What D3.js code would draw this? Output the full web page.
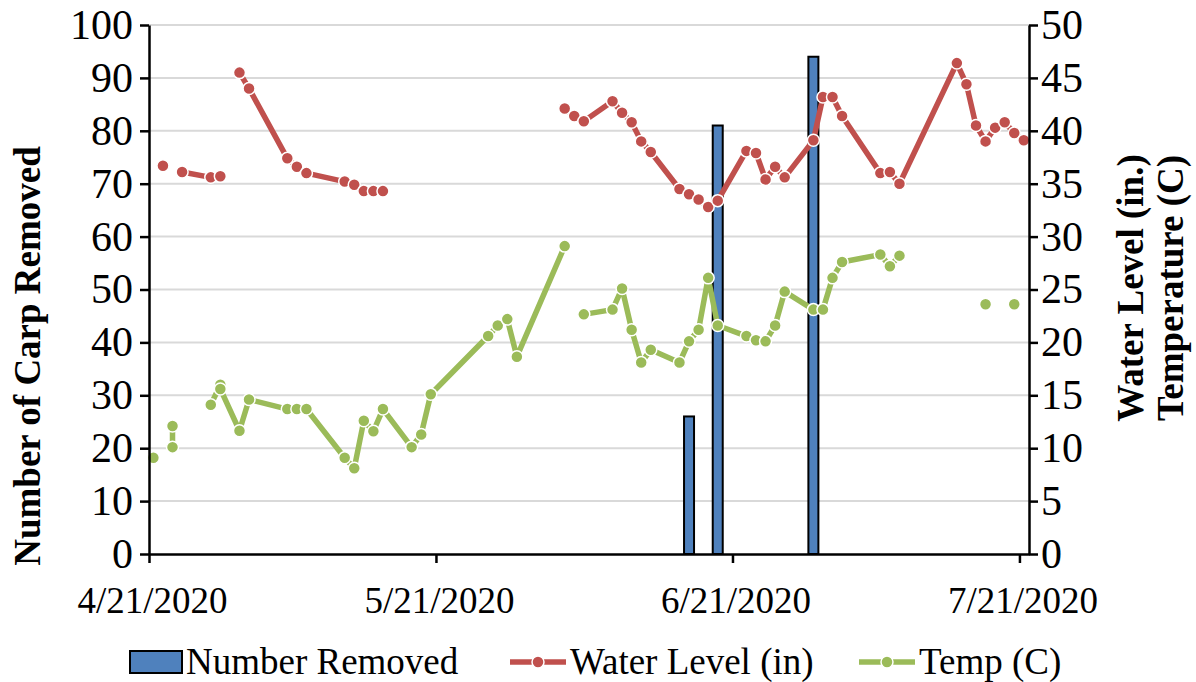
<!DOCTYPE html>
<html>
<head>
<meta charset="utf-8">
<script src="https://cdn.jsdelivr.net/npm/d3@7"></script>
<style>
	body { margin: 0; background: #fff; }
	text { font-family: "Liberation Serif", "Times New Roman", serif; fill: #000; }
</style>
</head>
<body>
<svg id="chart" width="1196" height="682"></svg>
<script>
	//carp removals (left axis)
var removedDates = ["6/16", "6/19", "6/29"];
var removedCounts = [26, 81, 94];

	//water level in inches (right axis), null = no reading, line breaks there
var waterLevel = [
	["4/22", 36.7], ["4/23", null], ["4/24", 36.1], ["4/27", 35.6], ["4/28", 35.7], ["4/29", null],
	["4/30", 45.5], ["5/1", 44.0], ["5/5", 37.4], ["5/6", 36.6], ["5/7", 36.0], ["5/11", 35.2],
	["5/12", 34.9], ["5/13", 34.3], ["5/14", 34.3], ["5/15", 34.3], ["5/20", null],
	["6/3", 42.1], ["6/4", 41.4], ["6/5", 40.9], ["6/8", 42.8], ["6/9", 41.7], ["6/10", 40.8],
	["6/11", 39.0], ["6/12", 38.0], ["6/15", 34.5], ["6/16", 34.0], ["6/17", 33.5], ["6/18", 32.8],
	["6/19", 33.4], ["6/22", 38.1], ["6/23", 37.9], ["6/24", 35.4], ["6/25", 36.6], ["6/26", 35.6],
	["6/29", 39.1], ["6/30", 43.2], ["7/1", 43.2], ["7/2", 41.4], ["7/6", 36.0], ["7/7", 36.1],
	["7/8", 35.0], ["7/14", 46.4], ["7/15", 44.4], ["7/16", 40.5], ["7/17", 39.0], ["7/18", 40.3],
	["7/19", 40.8], ["7/20", 39.8], ["7/21", 39.1]
];

	//water temperature in C (right axis)
var temperature = [
	["4/21", 9.1], ["4/22", null], ["4/23", 10.1], ["4/23", 12.1], ["4/24", null],
	["4/27", 14.1], ["4/28", 16.0], ["4/28", 15.6], ["4/30", 11.65], ["5/1", 14.6],
	["5/5", 13.7], ["5/6", 13.7], ["5/7", 13.7], ["5/11", 9.1], ["5/12", 8.1], ["5/13", 12.6],
	["5/14", 11.6], ["5/15", 13.7], ["5/18", 10.1], ["5/19", 11.3], ["5/20", 15.1],
	["5/26", 20.6], ["5/27", 21.6], ["5/28", 22.2], ["5/29", 18.65], ["6/3", 29.1], ["6/4", null],
	["6/5", 22.65], ["6/8", 23.1], ["6/9", 25.1], ["6/10", 21.2], ["6/11", 18.1], ["6/12", 19.3],
	["6/15", 18.1], ["6/16", 20.1], ["6/17", 21.2], ["6/18", 26.1], ["6/19", 21.6],
	["6/22", 20.6], ["6/23", 20.2], ["6/24", 20.1], ["6/25", 21.6], ["6/26", 24.8],
	["6/29", 23.1], ["6/30", 23.1], ["7/1", 26.1], ["7/2", 27.6], ["7/6", 28.3], ["7/7", 27.2],
	["7/8", 28.2], ["7/9", null], ["7/17", 23.6], ["7/18", null], ["7/20", 23.6]
];

var dateTicks = ["4/21", "5/21", "6/21", "7/21"];
var leftTicks = [0, 10, 20, 30, 40, 50, 60, 70, 80, 90, 100];
var rightTicks = [0, 5, 10, 15, 20, 25, 30, 35, 40, 45, 50];

var parseDay = d3.timeParse("%m/%d/%Y");
	//readings were logged late morning, so put them at 11:00
function readingTime(s) {
	return d3.timeHour.offset(parseDay(s + "/2020"), 11);
}

var svg = d3.select("#chart");
var plotLeft = 149, plotRight = 1029, plotTop = 25, plotBottom = 554;

var x = d3.scaleTime()
	.domain([parseDay("4/21/2020"), parseDay("7/22/2020")])
	.range([plotLeft, plotRight]);
var yLeft = d3.scaleLinear().domain([0, 100]).range([plotBottom, plotTop]);
var yRight = d3.scaleLinear().domain([0, 50]).range([plotBottom, plotTop]);

	//grid
svg.append("g")
	.selectAll("line")
	.data(leftTicks.slice(1))
	.enter().append("line")
	.attr("x1", plotLeft).attr("x2", plotRight)
	.attr("y1", function(d) { return yLeft(d); })
	.attr("y2", function(d) { return yLeft(d); })
	.attr("stroke", "#d9d9d9")
	.attr("stroke-width", 2);

	//bars
svg.append("g")
	.selectAll("rect")
	.data(removedDates.map(function(d, i) { return { t: readingTime(d), v: removedCounts[i] }; }))
	.enter().append("rect")
	.attr("x", function(d) { return x(d.t) - 5; })
	.attr("width", 10)
	.attr("y", function(d) { return yLeft(d.v); })
	.attr("height", function(d) { return yLeft(0) - yLeft(d.v); })
	.attr("fill", "#4f81bd")
	.attr("stroke", "#000")
	.attr("stroke-width", 2);

function drawSeries(data, color) {
	var pts = data.map(function(d) { return { t: readingTime(d[0]), v: d[1] }; });
	var line = d3.line()
		.defined(function(d) { return d.v != null; })
		.x(function(d) { return x(d.t); })
		.y(function(d) { return yRight(d.v); });

	var g = svg.append("g");
	g.append("path")
		.attr("d", line(pts))
		.attr("fill", "none")
		.attr("stroke", color)
		.attr("stroke-width", 5.5)
		.attr("stroke-linejoin", "round")
		.attr("stroke-linecap", "round");

	g.selectAll("circle")
		.data(pts.filter(function(d) { return d.v != null; }))
		.enter().append("circle")
		.attr("cx", function(d) { return x(d.t); })
		.attr("cy", function(d) { return yRight(d.v); })
		.attr("r", 6)
		.attr("fill", color)
		.attr("stroke", "#fff")
		.attr("stroke-width", 1.5);
}

drawSeries(waterLevel, "#c0504d");
drawSeries(temperature, "#9bbb59");

	//axes
var xAxis = d3.axisBottom(x)
	.tickValues(dateTicks.map(function(d) { return parseDay(d + "/2020"); }))
	.tickFormat(d3.timeFormat("%-m/%-d/%Y"))
	.tickSize(9)
	.tickSizeOuter(0);
var gx = svg.append("g")
	.attr("transform", "translate(0," + plotBottom + ")")
	.call(xAxis);
gx.selectAll("text").attr("dy", null).attr("y", 59).attr("dx", 3).style("font-size", "37px");

var gl = svg.append("g")
	.attr("transform", "translate(" + plotLeft + ",0)")
	.call(d3.axisLeft(yLeft).tickValues(leftTicks).tickSize(9).tickSizeOuter(0).tickPadding(7));
gl.selectAll("text").style("font-size", "42px");

var gr = svg.append("g")
	.attr("transform", "translate(" + plotRight + ",0)")
	.call(d3.axisRight(yRight).tickValues(rightTicks).tickSize(9).tickSizeOuter(0).tickPadding(3));
gr.selectAll("text").style("font-size", "42px");

svg.selectAll(".domain, .tick line").attr("stroke", "#000").attr("stroke-width", 2.5);
svg.selectAll(".tick text").attr("fill", "#000").style("font-family", "'Liberation Serif', serif");

	//axis titles
svg.append("text")
	.attr("transform", "translate(40,356) rotate(-90)")
	.attr("text-anchor", "middle")
	.style("font-size", "37px")
	.style("font-weight", "bold")
	.text("Number of Carp Removed");

var rightTitle = svg.append("text")
	.attr("transform", "translate(1143,288) rotate(-90)")
	.attr("text-anchor", "middle")
	.style("font-size", "37px")
	.style("font-weight", "bold");
rightTitle.append("tspan").attr("x", 0).attr("dy", 0).text("Water Level (in.)");
rightTitle.append("tspan").attr("x", 0).attr("dy", 40).text("Temperature (C)");

	//legend
var legend = svg.append("g").attr("transform", "translate(0,662)");
legend.append("rect")
	.attr("x", 130).attr("y", -11).attr("width", 52).attr("height", 22)
	.attr("fill", "#4f81bd").attr("stroke", "#000").attr("stroke-width", 2);
legend.append("text").attr("x", 186).attr("y", 12).style("font-size", "37px").text("Number Removed");

var legendLines = [
	{ x: 510, color: "#c0504d", label: "Water Level (in)" },
	{ x: 859, color: "#9bbb59", label: "Temp (C)" }
];
legendLines.forEach(function(l) {
	legend.append("line")
		.attr("x1", l.x).attr("x2", l.x + 56).attr("y1", 0).attr("y2", 0)
		.attr("stroke", l.color).attr("stroke-width", 5.5);
	legend.append("circle")
		.attr("cx", l.x + 28).attr("cy", 0).attr("r", 6)
		.attr("fill", l.color).attr("stroke", "#fff").attr("stroke-width", 1.5);
	legend.append("text").attr("x", l.x + 60).attr("y", 12).style("font-size", "37px").text(l.label);
});
</script>
</body>
</html>
